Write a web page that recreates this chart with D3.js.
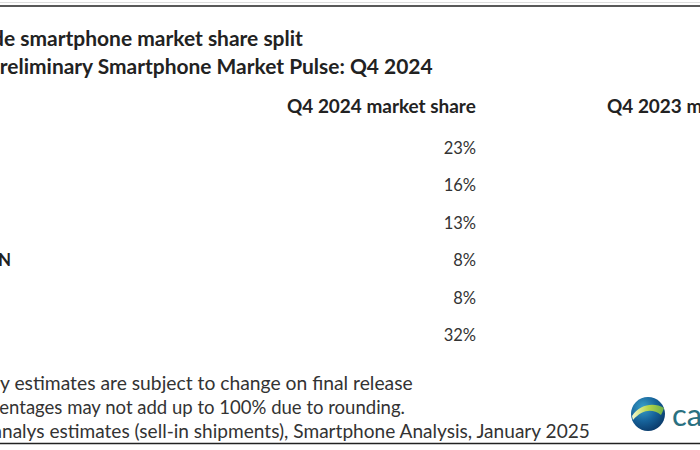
<!DOCTYPE html>
<html>
<head>
<meta charset="utf-8">
<script src="https://cdn.jsdelivr.net/npm/d3@7"></script>
<style>
  html, body { margin: 0; padding: 0; background: #fff; }
  svg { display: block; }
</style>
</head>
<body>
<svg id="chart" width="700" height="450"></svg>
<script>
// ---- data ----
const titleLines = ["Worldwide smartphone market share split", "Canalys Preliminary Smartphone Market Pulse: Q4 2024"];
const brands = ["Apple", "Samsung", "Xiaomi", "TRANSSION", "OPPO", "Others"];
const share2024 = [23, 16, 13, 8, 8, 32];
const columnHeaders = ["Q4 2024 market share", "Q4 2023 market share"];
const footnotes = [
  "Note: Preliminary estimates are subject to change on final release",
  "Percentages may not add up to 100% due to rounding.",
  "Source: Canalys estimates (sell-in shipments), Smartphone Analysis, January 2025"
];
const logoText = "canalys";

// ---- drawing ----
const W = 700, H = 450;
const svg = d3.select("#chart");
const FONT = "Lato, 'Open Sans', sans-serif";
const INK = "#222";

// measure helper
const meas = svg.append("text").attr("font-family", FONT).attr("visibility", "hidden");
function width(str, size, weight) {
  meas.attr("font-size", size).attr("font-weight", weight).text(str);
  return meas.node().getComputedTextLength();
}
// place text so that the substring starting at `cut` spans [x0, x1]
function fitted(g, full, cut, x0, x1, y, weight, color) {
  const prefix = full.slice(0, cut), vis = full.slice(cut);
  const s0 = 20;
  const size = s0 * (x1 - x0) / width(vis, s0, weight);
  const xp = x0 - width(prefix, size, weight);
  const t = g.append("text")
    .attr("x", xp).attr("y", y)
    .attr("dominant-baseline", "central")
    .attr("font-family", FONT).attr("font-size", size.toFixed(2))
    .attr("font-weight", weight).attr("fill", color || INK)
    .text(full);
  t.size = size;
  return t;
}

// borders
svg.append("line").attr("x1", 0).attr("x2", W).attr("y1", 2.5).attr("y2", 2.5)
  .attr("stroke", "#ddd").attr("stroke-width", 1);
svg.append("line").attr("x1", 0).attr("x2", W).attr("y1", 6).attr("y2", 6)
  .attr("stroke", "#222").attr("stroke-width", 1.6);
svg.append("line").attr("x1", 0).attr("x2", W).attr("y1", 443.5).attr("y2", 443.5)
  .attr("stroke", "#222").attr("stroke-width", 1.4);

// titles
const tg = svg.append("g");
fitted(tg, titleLines[0], 8, 4, 303, 37, "bold");
fitted(tg, titleLines[1], 9, 0, 433, 65, "bold");

// headers
const hg = svg.append("g");
const h0 = fitted(hg, columnHeaders[0], 0, 287, 476, 105, "bold");
hg.append("text")
  .attr("x", 607).attr("y", 105)
  .attr("dominant-baseline", "central")
  .attr("font-family", FONT).attr("font-size", h0.size.toFixed(2))
  .attr("font-weight", "bold").attr("fill", INK)
  .text(columnHeaders[1]);

// rows
const y = d3.scalePoint().domain(brands).range([148, 335]);
const valueSize = 16.5;
const rows = svg.append("g").selectAll("g").data(brands).join("g");
rows.append("text")
  .attr("x", 476).attr("y", d => y(d))
  .attr("text-anchor", "end").attr("dominant-baseline", "central")
  .attr("font-family", FONT).attr("font-size", valueSize).attr("fill", "#333")
  .text((d, i) => share2024[i] + "%");
// brand labels (mostly clipped off the left edge)
const labelSize = 16.5;
const transW = width("TRANSSION", labelSize, "bold");
rows.append("text")
  .attr("x", 11 - transW).attr("y", d => y(d))
  .attr("dominant-baseline", "central")
  .attr("font-family", FONT).attr("font-size", labelSize).attr("font-weight", "bold")
  .attr("fill", INK)
  .text(d => d);

// footnotes
const fg = svg.append("g");
fitted(fg, footnotes[0], 16, 0, 413, 382, "normal", "#333");
fitted(fg, footnotes[1], 5, 9, 405, 407, "normal", "#333");
fitted(fg, footnotes[2], 10, 2, 590, 430, "normal", "#333");

// logo
const defs = svg.append("defs");
const rg = defs.append("radialGradient").attr("id", "globe").attr("cx", "35%").attr("cy", "30%").attr("r", "75%");
rg.append("stop").attr("offset", "0%").attr("stop-color", "#3aa0c8");
rg.append("stop").attr("offset", "55%").attr("stop-color", "#16629a");
rg.append("stop").attr("offset", "100%").attr("stop-color", "#0a3a6a");
const sw = defs.append("linearGradient").attr("id", "swoosh").attr("x1", "0").attr("x2", "1").attr("y1", "0").attr("y2", "0");
sw.append("stop").attr("offset", "0%").attr("stop-color", "#f4f7d0");
sw.append("stop").attr("offset", "50%").attr("stop-color", "#b9d64a");
sw.append("stop").attr("offset", "100%").attr("stop-color", "#6bb04a");
const lg = svg.append("g").attr("transform", "translate(648,414)");
lg.append("circle").attr("r", 17).attr("fill", "url(#globe)");
lg.append("path")
  .attr("d", "M-16,2 C-8,-10 6,-12 16,-6 C15,-3 14,-1 13,1 C4,-6 -6,-4 -15,6 Z")
  .attr("fill", "url(#swoosh)");
svg.append("text")
  .attr("x", 672).attr("y", 414).attr("dominant-baseline", "central")
  .attr("font-family", FONT).attr("font-size", 31).attr("fill", "#2a7080")
  .text(logoText);
</script>
</body>
</html>
